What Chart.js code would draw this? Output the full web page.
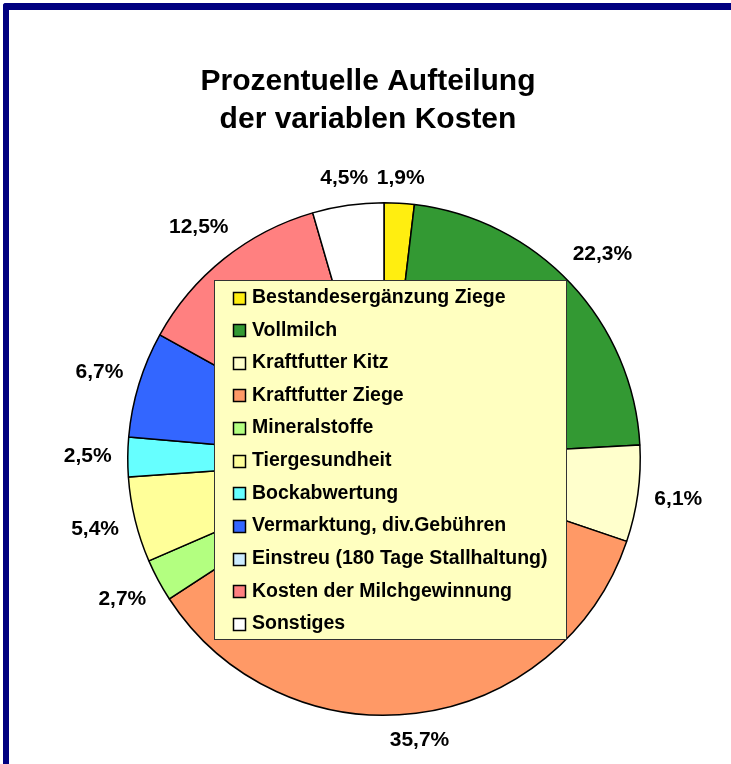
<!DOCTYPE html>
<html>
<head>
<meta charset="utf-8">
<script src="https://cdn.jsdelivr.net/npm/chart.js@4/dist/chart.umd.min.js"></script>
<style>
  html, body { margin: 0; padding: 0; background: #fff; overflow: hidden; }
  #frame {
    position: absolute; left: 3px; top: 3px; width: 760px; height: 800px;
    border-left: 6px solid #000080; border-top: 7px solid #000080;
    border-top-left-radius: 3px;
  }
  #chart { position: absolute; left: 0; top: 0; }
</style>
</head>
<body>
<div id="frame"></div>
<canvas id="chart" width="731" height="764"></canvas>
<script>
const titleLines = ['Prozentuelle Aufteilung', 'der variablen Kosten']

const categories = [
    'Bestandesergänzung Ziege',
    'Vollmilch',
    'Kraftfutter Kitz',
    'Kraftfutter Ziege',
    'Mineralstoffe',
    'Tiergesundheit',
    'Bockabwertung',
    'Vermarktung, div.Gebühren',
    'Einstreu (180 Tage Stallhaltung)',
    'Kosten der Milchgewinnung',
    'Sonstiges'
]

// Anteil in Prozent
const shares = [1.9, 22.3, 6.1, 35.7, 2.7, 5.4, 2.5, 6.7, 0, 12.5, 4.5]

const sliceColors = [
    '#FFEE10', '#339933', '#FFFFCC', '#FF9966', '#B3FF80', '#FFFF99',
    '#66FFFF', '#3366FF', '#CCECFF', '#FF8080', '#FFFFFF'
]

const FONT = '"Liberation Sans", Arial, sans-serif'

const overlay = {
    id: 'overlay',
    afterDatasetsDraw (chart) {
        const ctx = chart.ctx
        ctx.save()
        ctx.fillStyle = '#000'
        ctx.textBaseline = 'middle'

        // Titel
        ctx.textAlign = 'center'
        ctx.font = 'bold 30px ' + FONT
        titleLines.forEach((t, i) => ctx.fillText(t, 368, 82 + i * 38))

        // Prozentwerte außen
        ctx.font = 'bold 21px ' + FONT
        const meta = chart.getDatasetMeta(0)
        meta.data.forEach((arc, i) => {
            if (!shares[i]) return
            const p = arc.getProps(['x', 'y', 'startAngle', 'endAngle', 'outerRadius'], true)
            const mid = (p.startAngle + p.endAngle) / 2
            const text = shares[i].toFixed(1).replace('.', ',') + '%'
            const w = ctx.measureText(text).width
            const cos = Math.cos(mid), sin = Math.sin(mid)
            const d = p.outerRadius + 16 + Math.abs(cos) * w / 2 + Math.abs(sin) * 8
            ctx.fillText(text, p.x + cos * d, p.y + sin * d)
        })

        // Legende über dem Kreis
        const box = {x: 214.5, y: 280.5, w: 352, h: 359}
        ctx.fillStyle = '#FFFFC0'
        ctx.fillRect(box.x, box.y, box.w, box.h)
        ctx.strokeStyle = '#333'
        ctx.lineWidth = 1
        ctx.strokeRect(box.x, box.y, box.w, box.h)

        ctx.textAlign = 'left'
        ctx.font = 'bold 19.5px ' + FONT
        categories.forEach((name, i) => {
            const cy = 297.5 + i * 32.65
            ctx.fillStyle = sliceColors[i]
            ctx.fillRect(233.5, Math.round(cy - 6) + 0.5, 12, 12)
            ctx.strokeStyle = '#000'
            ctx.lineWidth = 1.5
            ctx.strokeRect(233.5, Math.round(cy - 6) + 0.5, 12, 12)
            ctx.fillStyle = '#000'
            ctx.fillText(name, 252, cy)
        })
        ctx.restore()
    }
}

new Chart(document.getElementById('chart'), {
    type: 'pie',
    data: {
        labels: categories,
        datasets: [{
            data: shares,
            backgroundColor: sliceColors,
            borderColor: '#000',
            borderWidth: 1.5
        }]
    },
    options: {
        responsive: false,
        animation: false,
        events: [],
        layout: {padding: {left: 127, right: 90, top: 202, bottom: 48}},
        plugins: {
            legend: {display: false},
            title: {display: false},
            tooltip: {enabled: false}
        }
    },
    plugins: [overlay]
})
</script>
</body>
</html>
